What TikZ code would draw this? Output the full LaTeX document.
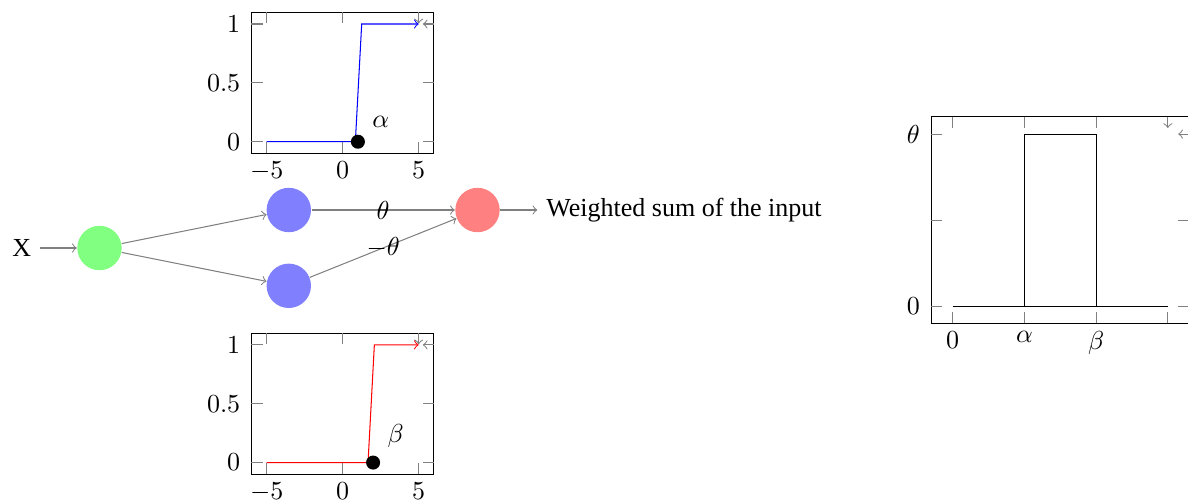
\documentclass[tikz,border=0pt]{standalone}
\usepackage{fontspec}
\setmainfont{Liberation Serif}
\usepackage{amssymb}

\begin{document}
\begin{tikzpicture}[x=0.3846pt,y=-0.3846pt]
\tikzset{neuron/.style={circle,minimum size=6mm,inner sep=0pt},
  conn/.style={->,draw=gray},
  tck/.style={draw=gray},
  dot/.style={circle,fill,inner sep=0pt,minimum size=5.4pt},
  xlab/.style={anchor=north,yshift=0.3pt},
  ylab/.style={anchor=east,xshift=-0.8pt}}
\useasboundingbox (0,0) rectangle (1188,502);

\path (21.7,248) node (x) {X};
\path (99.5,248) node[neuron,fill=green!50] (in) {};
\path (288.8,210) node[neuron,fill=blue!50] (h1) {};
\path (288.8,285.8) node[neuron,fill=blue!50] (h2) {};
\path (477.5,210) node[neuron,fill=red!50] (out) {};
\path (537.3,210) node[anchor=west] (sum) {Weighted sum of the input};

\draw[conn] (x) -- (in);
\draw[conn] (in) -- (h1);
\draw[conn] (in) -- (h2);
\draw[conn] (h1) -- node {$\theta$} (out);
\draw[conn] (h2) -- node {$-\theta$} (out);
\draw[conn] (out) -- (sum);

% step at alpha
\begin{scope}[shift={(131.8pt,-54.5pt)},x=5.846pt,y=45.27pt]
\draw (-6,-0.1) rectangle (6,1.1);
\draw[tck] (-5,-0.1) -- ++(0,0.15cm) (0,-0.1) -- ++(0,0.15cm) (5,-0.1) -- ++(0,0.15cm)
  (-5,1.1) -- ++(0,-0.15cm) (0,1.1) -- ++(0,-0.15cm);
\draw[tck,->] (5,1.1) -- ++(0,-0.15cm);
\draw[tck] (-6,0) -- ++(0.15cm,0) (-6,0.5) -- ++(0.15cm,0) (-6,1) -- ++(0.15cm,0)
  (6,0) -- ++(-0.15cm,0) (6,0.5) -- ++(-0.15cm,0);
\draw[tck,->] (6,1) -- ++(-0.15cm,0);
\path (-5,-0.1) node[xlab] {$-5$};
\path (0,-0.1) node[xlab] {$0$};
\path (5,-0.1) node[xlab] {$5$};
\path (-6,0) node[ylab] {$0$};
\path (-6,0.5) node[ylab] {$0.5$};
\path (-6,1) node[ylab] {$1$};
\draw[blue,->] (-5,0) -- (0.833,0) -- (1.25,1) -- (5,1);
\path (1,0) node[dot,label={above right:$\alpha$}] (a) {};
\end{scope}

% step at beta
\begin{scope}[shift={(131.8pt,-177.9pt)},x=5.846pt,y=45.27pt]
\draw (-6,-0.1) rectangle (6,1.1);
\draw[tck] (-5,-0.1) -- ++(0,0.15cm) (0,-0.1) -- ++(0,0.15cm) (5,-0.1) -- ++(0,0.15cm)
  (-5,1.1) -- ++(0,-0.15cm) (0,1.1) -- ++(0,-0.15cm);
\draw[tck,->] (5,1.1) -- ++(0,-0.15cm);
\draw[tck] (-6,0) -- ++(0.15cm,0) (-6,0.5) -- ++(0.15cm,0) (-6,1) -- ++(0.15cm,0)
  (6,0) -- ++(-0.15cm,0) (6,0.5) -- ++(-0.15cm,0);
\draw[tck,->] (6,1) -- ++(-0.15cm,0);
\path (-5,-0.1) node[xlab] {$-5$};
\path (0,-0.1) node[xlab] {$0$};
\path (5,-0.1) node[xlab] {$5$};
\path (-6,0) node[ylab] {$0$};
\path (-6,0.5) node[ylab] {$0.5$};
\path (-6,1) node[ylab] {$1$};
\draw[red,->] (-5,0) -- (1.667,0) -- (2.083,1) -- (5,1);
\path (2,0) node[dot,label={above right:$\beta$}] (b) {};
\end{scope}

% pulse
\begin{scope}[shift={(366.4pt,-117.7pt)},x=27.58pt,y=66.15pt]
\draw (-0.3,-0.1) rectangle (3.3,1.1);
\draw[tck] (0,-0.1) -- ++(0,0.15cm) (1,-0.1) -- ++(0,0.15cm) (2,-0.1) -- ++(0,0.15cm)
  (3,-0.1) -- ++(0,0.15cm) (0,1.1) -- ++(0,-0.15cm) (1,1.1) -- ++(0,-0.15cm)
  (2,1.1) -- ++(0,-0.15cm);
\draw[tck,->] (3,1.1) -- ++(0,-0.15cm);
\draw[tck] (-0.3,0) -- ++(0.15cm,0) (-0.3,0.5) -- ++(0.15cm,0) (-0.3,1) -- ++(0.15cm,0)
  (3.3,0) -- ++(-0.15cm,0) (3.3,0.5) -- ++(-0.15cm,0);
\draw[tck,->] (3.3,1) -- ++(-0.15cm,0);
\path (0,-0.1) node[xlab] {$0$};
\path (1,-0.1) node[xlab] {$\alpha$};
\path (2,-0.1) node[xlab] {$\beta$};
\path (-0.3,0) node[ylab] {$0$};
\path (-0.3,1) node[ylab] {$\theta$};
\draw (0,0) -- (3,0) (1,0) -- (1,1) -- (2,1) -- (2,0);
\end{scope}
\end{tikzpicture}
\end{document}
